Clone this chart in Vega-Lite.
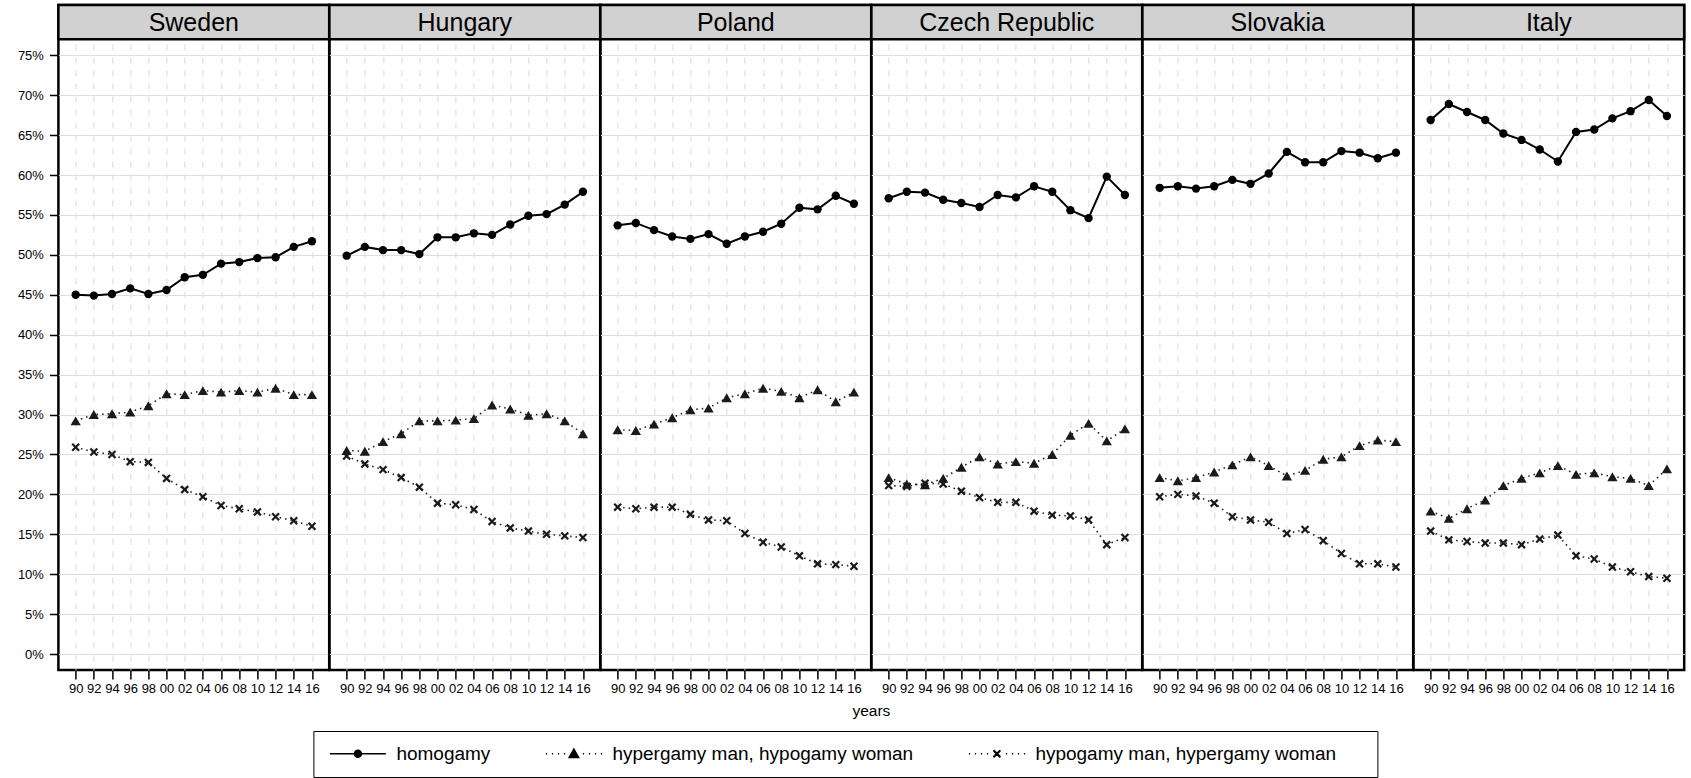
{
  "$schema": "https://vega.github.io/schema/vega-lite/v6.json",
  "padding": {"left": 16.4, "top": 2, "right": 2, "bottom": 0},
  "bounds": "flush",
  "data": {
    "values": [
      {"country": "Sweden", "year": 1990, "hom": 45.0, "hyp": 29.2, "hpo": 25.9},
      {"country": "Sweden", "year": 1992, "hom": 44.9, "hyp": 30.0, "hpo": 25.3},
      {"country": "Sweden", "year": 1994, "hom": 45.1, "hyp": 30.1, "hpo": 25.0},
      {"country": "Sweden", "year": 1996, "hom": 45.8, "hyp": 30.3, "hpo": 24.1},
      {"country": "Sweden", "year": 1998, "hom": 45.1, "hyp": 31.1, "hpo": 24.0},
      {"country": "Sweden", "year": 2000, "hom": 45.6, "hyp": 32.6, "hpo": 22.0},
      {"country": "Sweden", "year": 2002, "hom": 47.2, "hyp": 32.5, "hpo": 20.6},
      {"country": "Sweden", "year": 2004, "hom": 47.5, "hyp": 33.0, "hpo": 19.7},
      {"country": "Sweden", "year": 2006, "hom": 48.9, "hyp": 32.8, "hpo": 18.6},
      {"country": "Sweden", "year": 2008, "hom": 49.1, "hyp": 33.0, "hpo": 18.2},
      {"country": "Sweden", "year": 2010, "hom": 49.6, "hyp": 32.8, "hpo": 17.8},
      {"country": "Sweden", "year": 2012, "hom": 49.7, "hyp": 33.3, "hpo": 17.2},
      {"country": "Sweden", "year": 2014, "hom": 51.0, "hyp": 32.5, "hpo": 16.7},
      {"country": "Sweden", "year": 2016, "hom": 51.7, "hyp": 32.5, "hpo": 16.0},
      {"country": "Hungary", "year": 1990, "hom": 49.9, "hyp": 25.5, "hpo": 24.8},
      {"country": "Hungary", "year": 1992, "hom": 51.0, "hyp": 25.4, "hpo": 23.8},
      {"country": "Hungary", "year": 1994, "hom": 50.6, "hyp": 26.6, "hpo": 23.1},
      {"country": "Hungary", "year": 1996, "hom": 50.6, "hyp": 27.6, "hpo": 22.1},
      {"country": "Hungary", "year": 1998, "hom": 50.1, "hyp": 29.2, "hpo": 20.9},
      {"country": "Hungary", "year": 2000, "hom": 52.2, "hyp": 29.2, "hpo": 18.9},
      {"country": "Hungary", "year": 2002, "hom": 52.2, "hyp": 29.3, "hpo": 18.7},
      {"country": "Hungary", "year": 2004, "hom": 52.7, "hyp": 29.5, "hpo": 18.1},
      {"country": "Hungary", "year": 2006, "hom": 52.5, "hyp": 31.2, "hpo": 16.6},
      {"country": "Hungary", "year": 2008, "hom": 53.8, "hyp": 30.7, "hpo": 15.8},
      {"country": "Hungary", "year": 2010, "hom": 54.9, "hyp": 29.9, "hpo": 15.4},
      {"country": "Hungary", "year": 2012, "hom": 55.1, "hyp": 30.1, "hpo": 15.0},
      {"country": "Hungary", "year": 2014, "hom": 56.3, "hyp": 29.2, "hpo": 14.8},
      {"country": "Hungary", "year": 2016, "hom": 57.9, "hyp": 27.6, "hpo": 14.6},
      {"country": "Poland", "year": 1990, "hom": 53.7, "hyp": 28.1, "hpo": 18.4},
      {"country": "Poland", "year": 1992, "hom": 54.0, "hyp": 28.0, "hpo": 18.2},
      {"country": "Poland", "year": 1994, "hom": 53.1, "hyp": 28.8, "hpo": 18.4},
      {"country": "Poland", "year": 1996, "hom": 52.3, "hyp": 29.6, "hpo": 18.4},
      {"country": "Poland", "year": 1998, "hom": 52.0, "hyp": 30.6, "hpo": 17.5},
      {"country": "Poland", "year": 2000, "hom": 52.6, "hyp": 30.8, "hpo": 16.8},
      {"country": "Poland", "year": 2002, "hom": 51.4, "hyp": 32.1, "hpo": 16.7},
      {"country": "Poland", "year": 2004, "hom": 52.3, "hyp": 32.6, "hpo": 15.1},
      {"country": "Poland", "year": 2006, "hom": 52.9, "hyp": 33.3, "hpo": 14.0},
      {"country": "Poland", "year": 2008, "hom": 53.9, "hyp": 32.9, "hpo": 13.4},
      {"country": "Poland", "year": 2010, "hom": 55.9, "hyp": 32.1, "hpo": 12.3},
      {"country": "Poland", "year": 2012, "hom": 55.7, "hyp": 33.1, "hpo": 11.3},
      {"country": "Poland", "year": 2014, "hom": 57.4, "hyp": 31.6, "hpo": 11.2},
      {"country": "Poland", "year": 2016, "hom": 56.4, "hyp": 32.8, "hpo": 11.0},
      {"country": "Czech Republic", "year": 1990, "hom": 57.1, "hyp": 22.1, "hpo": 21.1},
      {"country": "Czech Republic", "year": 1992, "hom": 57.9, "hyp": 21.3, "hpo": 21.0},
      {"country": "Czech Republic", "year": 1994, "hom": 57.8, "hyp": 21.2, "hpo": 21.4},
      {"country": "Czech Republic", "year": 1996, "hom": 56.9, "hyp": 22.0, "hpo": 21.3},
      {"country": "Czech Republic", "year": 1998, "hom": 56.5, "hyp": 23.4, "hpo": 20.4},
      {"country": "Czech Republic", "year": 2000, "hom": 56.0, "hyp": 24.7, "hpo": 19.6},
      {"country": "Czech Republic", "year": 2002, "hom": 57.5, "hyp": 23.8, "hpo": 19.0},
      {"country": "Czech Republic", "year": 2004, "hom": 57.2, "hyp": 24.1, "hpo": 19.0},
      {"country": "Czech Republic", "year": 2006, "hom": 58.6, "hyp": 23.9, "hpo": 17.9},
      {"country": "Czech Republic", "year": 2008, "hom": 57.9, "hyp": 25.0, "hpo": 17.4},
      {"country": "Czech Republic", "year": 2010, "hom": 55.6, "hyp": 27.4, "hpo": 17.3},
      {"country": "Czech Republic", "year": 2012, "hom": 54.6, "hyp": 28.9, "hpo": 16.8},
      {"country": "Czech Republic", "year": 2014, "hom": 59.8, "hyp": 26.7, "hpo": 13.7},
      {"country": "Czech Republic", "year": 2016, "hom": 57.5, "hyp": 28.2, "hpo": 14.6},
      {"country": "Slovakia", "year": 1990, "hom": 58.4, "hyp": 22.1, "hpo": 19.7},
      {"country": "Slovakia", "year": 1992, "hom": 58.6, "hyp": 21.7, "hpo": 20.0},
      {"country": "Slovakia", "year": 1994, "hom": 58.3, "hyp": 22.1, "hpo": 19.8},
      {"country": "Slovakia", "year": 1996, "hom": 58.6, "hyp": 22.8, "hpo": 18.9},
      {"country": "Slovakia", "year": 1998, "hom": 59.4, "hyp": 23.7, "hpo": 17.2},
      {"country": "Slovakia", "year": 2000, "hom": 58.9, "hyp": 24.7, "hpo": 16.8},
      {"country": "Slovakia", "year": 2002, "hom": 60.2, "hyp": 23.6, "hpo": 16.5},
      {"country": "Slovakia", "year": 2004, "hom": 62.9, "hyp": 22.3, "hpo": 15.1},
      {"country": "Slovakia", "year": 2006, "hom": 61.6, "hyp": 23.0, "hpo": 15.6},
      {"country": "Slovakia", "year": 2008, "hom": 61.6, "hyp": 24.4, "hpo": 14.2},
      {"country": "Slovakia", "year": 2010, "hom": 63.0, "hyp": 24.7, "hpo": 12.6},
      {"country": "Slovakia", "year": 2012, "hom": 62.8, "hyp": 26.1, "hpo": 11.3},
      {"country": "Slovakia", "year": 2014, "hom": 62.1, "hyp": 26.8, "hpo": 11.3},
      {"country": "Slovakia", "year": 2016, "hom": 62.8, "hyp": 26.6, "hpo": 10.9},
      {"country": "Italy", "year": 1990, "hom": 66.9, "hyp": 17.9, "hpo": 15.4},
      {"country": "Italy", "year": 1992, "hom": 68.9, "hyp": 17.0, "hpo": 14.3},
      {"country": "Italy", "year": 1994, "hom": 67.9, "hyp": 18.2, "hpo": 14.1},
      {"country": "Italy", "year": 1996, "hom": 66.9, "hyp": 19.3, "hpo": 13.9},
      {"country": "Italy", "year": 1998, "hom": 65.2, "hyp": 21.1, "hpo": 13.9},
      {"country": "Italy", "year": 2000, "hom": 64.4, "hyp": 22.0, "hpo": 13.7},
      {"country": "Italy", "year": 2002, "hom": 63.2, "hyp": 22.7, "hpo": 14.4},
      {"country": "Italy", "year": 2004, "hom": 61.7, "hyp": 23.6, "hpo": 14.9},
      {"country": "Italy", "year": 2006, "hom": 65.4, "hyp": 22.5, "hpo": 12.3},
      {"country": "Italy", "year": 2008, "hom": 65.7, "hyp": 22.7, "hpo": 11.9},
      {"country": "Italy", "year": 2010, "hom": 67.1, "hyp": 22.2, "hpo": 10.9},
      {"country": "Italy", "year": 2012, "hom": 68.0, "hyp": 22.0, "hpo": 10.3},
      {"country": "Italy", "year": 2014, "hom": 69.4, "hyp": 21.1, "hpo": 9.7},
      {"country": "Italy", "year": 2016, "hom": 67.4, "hyp": 23.2, "hpo": 9.5}
    ]
  },
  "transform": [{"fold": ["hom", "hyp", "hpo"], "as": ["type", "pct"]}],
  "spacing": 0,
  "facet": {
    "column": {
      "field": "country",
      "type": "nominal",
      "sort": ["Sweden", "Hungary", "Poland", "Czech Republic", "Slovakia", "Italy"],
      "title": "years",
      "header": {
        "labels": false,
        "titleOrient": "bottom",
        "titleFontSize": 15.5,
        "titleFontWeight": "normal",
        "titleColor": "black",
        "titlePadding": -2
      }
    }
  },
  "spec": {
    "width": 270.8,
    "height": 665,
    "encoding": {
      "x": {
        "field": "year",
        "type": "quantitative",
        "title": null,
        "scale": {"domain": [1988.1, 2017.9], "nice": false, "zero": false},
        "axis": {
          "values": [1990, 1992, 1994, 1996, 1998, 2000, 2002, 2004, 2006, 2008, 2010, 2012, 2014, 2016],
          "format": "d",
          "labelExpr": "substring(datum.label, 2)",
          "grid": true,
          "gridDash": [6, 7],
          "gridColor": "#d9d9d9",
          "gridWidth": 1,
          "domain": false,
          "tickSize": 9,
          "tickWidth": 1.5,
          "tickColor": "black",
          "labelFontSize": 13,
          "labelColor": "black",
          "labelPadding": 4,
          "labelOverlap": false,
          "labelFlush": false
        }
      },
      "y": {
        "field": "pct",
        "type": "quantitative",
        "title": null,
        "scale": {"domain": [-2, 81.3], "nice": false, "zero": false},
        "axis": {
          "values": [0, 5, 10, 15, 20, 25, 30, 35, 40, 45, 50, 55, 60, 65, 70, 75],
          "format": "d",
          "labelExpr": "datum.label + '%'",
          "grid": true,
          "gridColor": "#dedede",
          "gridWidth": 1,
          "domain": false,
          "tickSize": 9,
          "tickWidth": 1.5,
          "tickColor": "black",
          "labelFontSize": 13,
          "labelColor": "black",
          "labelPadding": 6
        }
      }
    },
    "layer": [
      {
        "transform": [{"filter": "datum.year == 1990 && datum.type == 'hom'"}],
        "mark": {"type": "rect", "fill": "#d1d1d1", "stroke": "black", "strokeWidth": 2.5},
        "encoding": {
          "x": {"datum": 1988.1},
          "x2": {"datum": 2017.9},
          "y": {"datum": 77},
          "y2": {"datum": 81.3}
        }
      },
      {
        "transform": [{"filter": "datum.year == 1990 && datum.type == 'hom'"}],
        "mark": {"type": "text", "fontSize": 25, "baseline": "middle", "align": "center", "color": "black", "dy": 1},
        "encoding": {
          "x": {"datum": 2003},
          "y": {"datum": 79.15},
          "text": {"field": "country"}
        }
      },
      {
        "transform": [{"filter": "datum.type == 'hom'"}],
        "mark": {"type": "line", "color": "black", "strokeWidth": 2}
      },
      {
        "transform": [{"filter": "datum.type != 'hom'"}],
        "mark": {"type": "line", "color": "#222222", "strokeWidth": 1.6, "strokeDash": [1.5, 4]},
        "encoding": {"detail": {"field": "type"}}
      },
      {
        "transform": [{"filter": "datum.type == 'hom'"}],
        "mark": {"type": "point", "shape": "circle", "filled": true, "color": "black", "size": 70, "opacity": 1}
      },
      {
        "transform": [{"filter": "datum.type == 'hyp'"}],
        "mark": {"type": "point", "shape": "triangle-up", "filled": true, "color": "#1a1a1a", "size": 105, "opacity": 1}
      },
      {
        "transform": [{"filter": "datum.type == 'hpo'"}],
        "mark": {"type": "point", "shape": "M-1,-1L1,1M-1,1L1,-1", "filled": false, "color": "#1a1a1a", "strokeWidth": 2.2, "size": 48, "opacity": 1}
      },
      {
        "transform": [{"filter": "datum.pct < -100"}],
        "mark": {"type": "point", "filled": false, "color": "black", "strokeWidth": 1.5, "size": 100, "opacity": 1},
        "encoding": {
          "shape": {
            "field": "type",
            "type": "nominal",
            "scale": {
              "domain": ["hom", "hyp", "hpo"],
              "range": [
                "M-1.2,0H10M5.1,0C5.1,0.387,4.787,0.7,4.4,0.7C4.013,0.7,3.7,0.387,3.7,0C3.7,-0.387,4.013,-0.7,4.4,-0.7C4.787,-0.7,5.1,-0.387,5.1,0ZM4.85,0C4.85,0.249,4.649,0.45,4.4,0.45C4.151,0.45,3.95,0.249,3.95,0C3.95,-0.249,4.151,-0.45,4.4,-0.45C4.649,-0.45,4.85,-0.249,4.85,0ZM4.6,0C4.6,0.11,4.51,0.2,4.4,0.2C4.29,0.2,4.2,0.11,4.2,0C4.2,-0.11,4.29,-0.2,4.4,-0.2C4.51,-0.2,4.6,-0.11,4.6,0ZM4.35,0h0.1",
                "M-1.2,0h0.25M0,0h0.25M1.2,0h0.25M2.4,0h0.25M6.2,0h0.25M7.4,0h0.25M8.6,0h0.25M9.8,0h0.25M4.4,-0.95L5.35,0.75L3.45,0.75ZM4.4,-0.633L5.084,0.591L3.716,0.591ZM4.4,-0.316L4.818,0.432L3.982,0.432ZM4.4,0.002L4.552,0.274L4.248,0.274Z",
                "M-1.2,0h0.25M0,0h0.25M1.2,0h0.25M2.4,0h0.25M6.2,0h0.25M7.4,0h0.25M8.6,0h0.25M9.8,0h0.25M3.7,-0.7L5.1,0.7M3.7,0.7L5.1,-0.7M3.8,-0.7L5.1,0.6M3.7,-0.6L5.0,0.7M3.7,0.6L5.0,-0.7M3.8,0.7L5.1,-0.6"
              ]
            },
            "legend": {
              "orient": "none",
              "legendX": 255,
              "legendY": 726,
              "direction": "horizontal",
              "columns": 3,
              "title": " ",
              "titleOrient": "right",
              "titlePadding": 28,
              "titleFontSize": 10,
              "strokeColor": "black",
              "fillColor": "white",
              "padding": 13,
              "labelFontSize": 19,
              "labelColor": "black",
              "labelOffset": 51,
              "labelLimit": 0,
              "columnPadding": 52,
              "symbolSize": 100,
              "symbolStrokeWidth": 1.5,
              "symbolStrokeColor": "black",
              "labelExpr": "datum.value == 'hom' ? 'homogamy' : datum.value == 'hyp' ? 'hypergamy man, hypogamy woman' : 'hypogamy man, hypergamy woman'"
            }
          }
        }
      }
    ]
  },
  "config": {
    "font": "Liberation Sans",
    "view": {"stroke": "black", "strokeWidth": 2.5}
  }
}
